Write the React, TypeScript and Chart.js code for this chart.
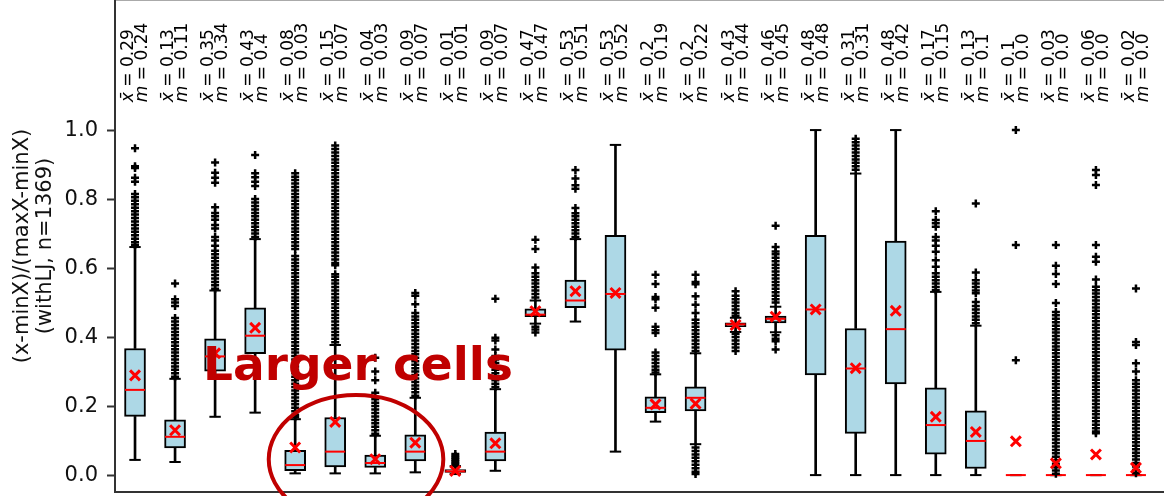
import React, { useEffect, useRef } from 'react';
import { Chart, registerables } from 'chart.js';

Chart.register(...registerables);

const positions = [1, 2, 3, 4, 5, 6, 7, 8, 9, 10, 11, 12, 13, 14, 15, 16, 17, 18, 19, 20, 21, 22, 23, 24, 25, 26];

const lowWhisker = [0.044, 0.038, 0.169, 0.181, 0.005, 0.005, 0.005, 0.008, 0.003, 0.0125, 0.439, 0.445, 0.068, 0.155, 0.0896, 0.415, 0.414, 0.0, 0.0, 0.0, 0.0, 0.0, 0, 0, 0, 0];
const q1 = [0.170, 0.079, 0.301, 0.352, 0.0125, 0.024, 0.022, 0.041, 0.008, 0.041, 0.459, 0.485, 0.362, 0.181, 0.186, 0.430, 0.441, 0.290, 0.121, 0.264, 0.061, 0.019, 0, 0, 0, 0];
const medians = [0.247, 0.111, 0.344, 0.404, 0.029, 0.068, 0.035, 0.068, 0.011, 0.068, 0.465, 0.506, 0.525, 0.195, 0.224, 0.437, 0.453, 0.480, 0.309, 0.423, 0.145, 0.099, 0, 0, 0, 0];
const q3 = [0.367, 0.160, 0.395, 0.485, 0.072, 0.167, 0.058, 0.117, 0.016, 0.125, 0.482, 0.565, 0.695, 0.227, 0.256, 0.441, 0.461, 0.695, 0.425, 0.678, 0.253, 0.186, 0, 0, 0, 0];
const highWhisker = [0.661, 0.279, 0.535, 0.684, 0.162, 0.377, 0.114, 0.224, 0.026, 0.249, 0.506, 0.684, 0.957, 0.292, 0.353, 0.456, 0.488, 1.0, 0.874, 1.0, 0.531, 0.433, 0, 0, 0, 0];
const means = [0.289, 0.130, 0.353, 0.427, 0.080, 0.154, 0.046, 0.094, 0.012, 0.092, 0.475, 0.533, 0.528, 0.205, 0.207, 0.435, 0.459, 0.480, 0.310, 0.476, 0.169, 0.125, 0.098, 0.034, 0.060, 0.021];

const meanLabels = ['0.29', '0.13', '0.35', '0.43', '0.08', '0.15', '0.04', '0.09', '0.01', '0.09', '0.47', '0.53', '0.53', '0.2', '0.2', '0.43', '0.46', '0.48', '0.31', '0.48', '0.17', '0.13', '0.1', '0.03', '0.06', '0.02'];
const medianLabels = ['0.24', '0.11', '0.34', '0.4', '0.03', '0.07', '0.03', '0.07', '0.01', '0.07', '0.47', '0.51', '0.52', '0.19', '0.22', '0.44', '0.45', '0.48', '0.31', '0.42', '0.15', '0.1', '0.0', '0.0', '0.0', '0.0'];

const outliers: number[][] = [
  [0.947, 0.895, 0.89, 0.862, 0.85, 0.815, 0.805, 0.795, 0.785, 0.775, 0.765, 0.755, 0.745, 0.735, 0.725, 0.715, 0.705, 0.695, 0.685, 0.675, 0.667],
  [0.555, 0.51, 0.50, 0.49, 0.455, 0.445, 0.435, 0.425, 0.415, 0.405, 0.395, 0.385, 0.375, 0.365, 0.355, 0.345, 0.335, 0.325, 0.315, 0.305, 0.295, 0.285],
  [0.906, 0.876, 0.862, 0.847, 0.776, 0.76, 0.75, 0.74, 0.725, 0.715, 0.69, 0.68, 0.665, 0.65, 0.64, 0.63, 0.62, 0.61, 0.60, 0.59, 0.58, 0.57, 0.56, 0.55, 0.54],
  [0.928, 0.875, 0.863, 0.85, 0.838, 0.80, 0.79, 0.78, 0.77, 0.76, 0.75, 0.74, 0.73, 0.72, 0.71, 0.70, 0.69],
  [0.875, 0.865, 0.855, 0.845, 0.835, 0.825, 0.815, 0.805, 0.795, 0.785, 0.775, 0.765, 0.755, 0.745, 0.735, 0.725, 0.715, 0.705, 0.695, 0.685, 0.675, 0.665, 0.655, 0.635, 0.625, 0.615, 0.605, 0.595, 0.585, 0.575, 0.565, 0.555, 0.545, 0.535, 0.525, 0.515, 0.505, 0.495, 0.485, 0.475, 0.465, 0.455, 0.445, 0.435, 0.425, 0.415, 0.405, 0.395, 0.385, 0.375, 0.365, 0.355, 0.345, 0.335, 0.325, 0.315, 0.305, 0.295, 0.285, 0.275, 0.265, 0.255, 0.245, 0.235, 0.225, 0.215, 0.205, 0.195, 0.185, 0.175, 0.168],
  [0.955, 0.945, 0.935, 0.925, 0.915, 0.905, 0.895, 0.885, 0.875, 0.865, 0.855, 0.845, 0.835, 0.825, 0.815, 0.805, 0.795, 0.785, 0.775, 0.765, 0.755, 0.745, 0.735, 0.725, 0.715, 0.705, 0.695, 0.685, 0.675, 0.665, 0.655, 0.645, 0.635, 0.625, 0.615, 0.608, 0.582, 0.575, 0.565, 0.555, 0.545, 0.535, 0.525, 0.515, 0.505, 0.495, 0.485, 0.475, 0.465, 0.455, 0.445, 0.435, 0.425, 0.415, 0.405, 0.395, 0.385],
  [0.34, 0.30, 0.275, 0.239, 0.22, 0.21, 0.20, 0.19, 0.18, 0.17, 0.16, 0.15, 0.14, 0.13, 0.12],
  [0.528, 0.52, 0.495, 0.47, 0.46, 0.45, 0.44, 0.43, 0.42, 0.41, 0.40, 0.39, 0.38, 0.37, 0.36, 0.35, 0.34, 0.33, 0.32, 0.31, 0.30, 0.29, 0.28, 0.27, 0.26, 0.25, 0.24, 0.23],
  [0.061, 0.055, 0.05, 0.045, 0.04, 0.035, 0.03],
  [0.511, 0.398, 0.39, 0.364, 0.345, 0.335, 0.325, 0.315, 0.305, 0.295, 0.285, 0.275, 0.265, 0.255],
  [0.682, 0.655, 0.602, 0.585, 0.575, 0.565, 0.555, 0.545, 0.535, 0.525, 0.515, 0.43, 0.422, 0.413],
  [0.884, 0.86, 0.84, 0.83, 0.774, 0.759, 0.75, 0.74, 0.73, 0.72, 0.71, 0.70, 0.69],
  [],
  [0.581, 0.554, 0.516, 0.51, 0.485, 0.43, 0.42, 0.412, 0.355, 0.345, 0.335, 0.325, 0.315, 0.305, 0.297],
  [0.581, 0.56, 0.553, 0.518, 0.494, 0.47, 0.45, 0.44, 0.43, 0.42, 0.41, 0.40, 0.39, 0.38, 0.37, 0.36, 0.08, 0.07, 0.06, 0.05, 0.04, 0.03, 0.02, 0.01, 0.003],
  [0.533, 0.52, 0.51, 0.50, 0.49, 0.48, 0.47, 0.462, 0.41, 0.40, 0.39, 0.38, 0.37, 0.36],
  [0.723, 0.661, 0.648, 0.64, 0.63, 0.62, 0.61, 0.60, 0.59, 0.58, 0.57, 0.56, 0.55, 0.54, 0.53, 0.52, 0.51, 0.50, 0.405, 0.395, 0.388, 0.364],
  [],
  [0.975, 0.965, 0.955, 0.945, 0.935, 0.925, 0.915, 0.905, 0.895, 0.885],
  [],
  [0.765, 0.739, 0.73, 0.72, 0.69, 0.68, 0.665, 0.647, 0.623, 0.604, 0.585, 0.575, 0.565, 0.555, 0.545, 0.536],
  [0.787, 0.587, 0.565, 0.555, 0.545, 0.535, 0.527, 0.502, 0.49, 0.48, 0.47, 0.46, 0.45, 0.44],
  [1.0, 0.667, 0.333],
  [0.667, 0.607, 0.583, 0.554, 0.499, 0.473, 0.463, 0.453, 0.443, 0.433, 0.423, 0.413, 0.403, 0.393, 0.383, 0.373, 0.363, 0.353, 0.343, 0.333, 0.323, 0.313, 0.303, 0.293, 0.283, 0.273, 0.263, 0.253, 0.243, 0.233, 0.223, 0.213, 0.203, 0.193, 0.183, 0.173, 0.163, 0.153, 0.143, 0.133, 0.123, 0.113, 0.103, 0.093, 0.083, 0.073, 0.063, 0.053, 0.043, 0.033, 0.023, 0.013, 0.004],
  [0.884, 0.87, 0.841, 0.667, 0.633, 0.618, 0.567, 0.546, 0.536, 0.526, 0.516, 0.506, 0.496, 0.486, 0.476, 0.466, 0.456, 0.446, 0.436, 0.426, 0.416, 0.406, 0.396, 0.386, 0.376, 0.366, 0.356, 0.346, 0.336, 0.326, 0.316, 0.306, 0.296, 0.286, 0.276, 0.266, 0.256, 0.246, 0.236, 0.226, 0.216, 0.206, 0.196, 0.186, 0.176, 0.166, 0.156, 0.146, 0.136, 0.126, 0.121],
  [0.541, 0.386, 0.377, 0.324, 0.30, 0.275, 0.265, 0.255, 0.245, 0.235, 0.225, 0.215, 0.205, 0.195, 0.185, 0.175, 0.165, 0.155, 0.145, 0.135, 0.125, 0.115, 0.105, 0.095, 0.085, 0.075, 0.065, 0.055, 0.045, 0.035, 0.025, 0.015, 0.005],
];

const yTicks = [0, 0.2, 0.4, 0.6, 0.8, 1.0];
const yAxisTitle = ['(x-minX)/(maxX-minX)', '(withLJ, n=1369)'];
const annotationText = 'Larger cells';
const annotationAt = { x: 2.7, y: 0.275 };
const ellipseAt = { x: 6.52, y: 0.046, rx: 2.18, ry: 0.186 };
const statLabelY = 1.081;

const X_MIN = 0.5;
const X_MAX = 27.1;
const Y_MIN = -0.049;
const Y_MAX = 1.377;
const FONT = "'DejaVu Sans', 'Liberation Sans', sans-serif";
const DARK_RED = '#c00000';

const zeroPad = (s: any) => {
  s.paddingTop = 0;
  s.paddingBottom = 0;
  s.paddingLeft = 0;
  s.paddingRight = 0;
};

const overlayPlugin = {
  id: 'overlay',
  afterDraw(chart: any) {
    const { ctx } = chart;
    const xs = chart.scales.x;
    const ys = chart.scales.y;
    ctx.save();
    const ly = ys.getPixelForValue(statLabelY);
    positions.forEach((p, i) => {
      const px = xs.getPixelForValue(p);
      ctx.save();
      ctx.translate(px, ly);
      ctx.rotate(-Math.PI / 2);
      ctx.textBaseline = 'middle';
      ctx.textAlign = 'left';
      ctx.fillStyle = '#000';
      const lines: [string, string, number][] = [
        ['x\u0304', ' = ' + meanLabels[i], -6.5],
        ['m', ' = ' + medianLabels[i], 7.5],
      ];
      lines.forEach(([v, rest, off]) => {
        ctx.font = `italic 17px ${FONT}`;
        ctx.fillText(v, 0, off);
        const w = ctx.measureText(v).width;
        ctx.font = `17px ${FONT}`;
        ctx.fillText(rest, w, off);
      });
      ctx.restore();
    });
    ctx.font = `bold 47px ${FONT}`;
    ctx.fillStyle = DARK_RED;
    ctx.textAlign = 'left';
    ctx.textBaseline = 'alphabetic';
    ctx.fillText(annotationText, xs.getPixelForValue(annotationAt.x), ys.getPixelForValue(annotationAt.y));
    const cx = xs.getPixelForValue(ellipseAt.x);
    const cy = ys.getPixelForValue(ellipseAt.y);
    const rx = Math.abs(xs.getPixelForValue(ellipseAt.x + ellipseAt.rx) - cx);
    const ry = Math.abs(ys.getPixelForValue(ellipseAt.y + ellipseAt.ry) - cy);
    ctx.beginPath();
    ctx.ellipse(cx, cy, rx, ry, 0, 0, Math.PI * 2);
    ctx.strokeStyle = DARK_RED;
    ctx.lineWidth = 4;
    ctx.stroke();
    ctx.restore();
  },
};

export default function App() {
  const canvasRef = useRef<HTMLCanvasElement | null>(null);

  useEffect(() => {
    document.body.style.margin = '0';
    const canvas = canvasRef.current;
    if (!canvas) return;
    Chart.defaults.font.family = FONT;

    const boxData = positions.map((x, i) => ({ x, y: [q1[i], q3[i]] }));
    const whiskerData = positions.flatMap((x, i) => [
      { x, y: [lowWhisker[i], q1[i]] },
      { x, y: [q3[i], highWhisker[i]] },
    ]);
    const capData = positions.flatMap((x, i) => [
      { x, y: lowWhisker[i] },
      { x, y: highWhisker[i] },
    ]);
    const medianData = positions.map((x, i) => ({ x, y: medians[i] }));
    const meanData = positions.map((x, i) => ({ x, y: means[i] }));
    const outlierData = positions.flatMap((x, i) => outliers[i].map((v) => ({ x, y: v })));

    const chart = new Chart(canvas, {
      type: 'bar',
      data: {
        datasets: [
          {
            type: 'bar',
            data: boxData as any,
            backgroundColor: '#add8e6',
            borderColor: '#000',
            borderWidth: 2,
            borderSkipped: false,
            barThickness: 21,
            grouped: false,
            order: 5,
          } as any,
          {
            type: 'bar',
            data: whiskerData as any,
            backgroundColor: '#000',
            borderWidth: 0,
            barThickness: 2,
            grouped: false,
            order: 4,
          } as any,
          {
            type: 'scatter',
            data: capData,
            pointStyle: 'line',
            pointRadius: 5.7,
            pointBorderColor: '#000',
            pointBackgroundColor: '#000',
            pointBorderWidth: 2,
            showLine: false,
            order: 3,
          } as any,
          {
            type: 'scatter',
            data: medianData,
            pointStyle: 'line',
            pointRadius: 10,
            pointBorderColor: '#ff0000',
            pointBackgroundColor: '#ff0000',
            pointBorderWidth: 2,
            showLine: false,
            order: 2,
          } as any,
          {
            type: 'scatter',
            data: outlierData,
            pointStyle: 'cross',
            pointRadius: 4,
            pointBorderColor: '#000',
            pointBackgroundColor: '#000',
            pointBorderWidth: 2.5,
            showLine: false,
            order: 1,
          } as any,
          {
            type: 'scatter',
            data: meanData,
            pointStyle: 'crossRot',
            pointRadius: 7,
            pointBorderColor: '#ff0000',
            pointBackgroundColor: '#ff0000',
            pointBorderWidth: 3,
            showLine: false,
            order: 0,
          } as any,
        ],
      },
      options: {
        responsive: false,
        animation: false,
        events: [],
        layout: { padding: 0, autoPadding: false },
        plugins: {
          legend: { display: false },
          tooltip: { enabled: false },
        },
        scales: {
          x: {
            type: 'linear',
            min: X_MIN,
            max: X_MAX,
            offset: false,
            position: 'bottom',
            grid: { display: false, drawTicks: false },
            ticks: { display: false },
            border: { display: true, color: '#333', width: 2 },
            afterFit: (s: any) => { s.height = 4; zeroPad(s); },
          },
          xTop: {
            type: 'linear',
            min: X_MIN,
            max: X_MAX,
            offset: false,
            position: 'top',
            display: true,
            grid: { display: false, drawTicks: false },
            ticks: { display: false },
            border: { display: true, color: '#aaa', width: 2 },
            afterFit: (s: any) => { s.height = 0; zeroPad(s); },
          },
          y: {
            type: 'linear',
            min: Y_MIN,
            max: Y_MAX,
            position: 'left',
            afterBuildTicks: (s: any) => { s.ticks = yTicks.map((v) => ({ value: v })); },
            afterFit: (s: any) => { s.width = 115; zeroPad(s); },
            grid: { display: true, drawOnChartArea: false, drawTicks: true, tickLength: 8, tickColor: '#333', tickWidth: 2 },
            border: { display: true, color: '#333', width: 2 },
            ticks: {
              padding: 9,
              color: '#111',
              font: { size: 21, family: FONT },
              callback: (v: any) => Number(v).toFixed(1),
            },
            title: {
              display: true,
              text: yAxisTitle,
              color: '#111',
              font: { size: 21, family: FONT, lineHeight: 1.05 },
              padding: { top: 12, bottom: 0 },
            },
          },
        },
      } as any,
      plugins: [overlayPlugin],
    });

    return () => chart.destroy();
  }, []);

  return (
    <div style={{ position: 'fixed', left: 0, top: 0, width: 1164, height: 496, overflow: 'hidden', background: '#fff' }}>
      <canvas ref={canvasRef} width={1180} height={496} style={{ display: 'block', width: 1180, height: 496 }} />
    </div>
  );
}
